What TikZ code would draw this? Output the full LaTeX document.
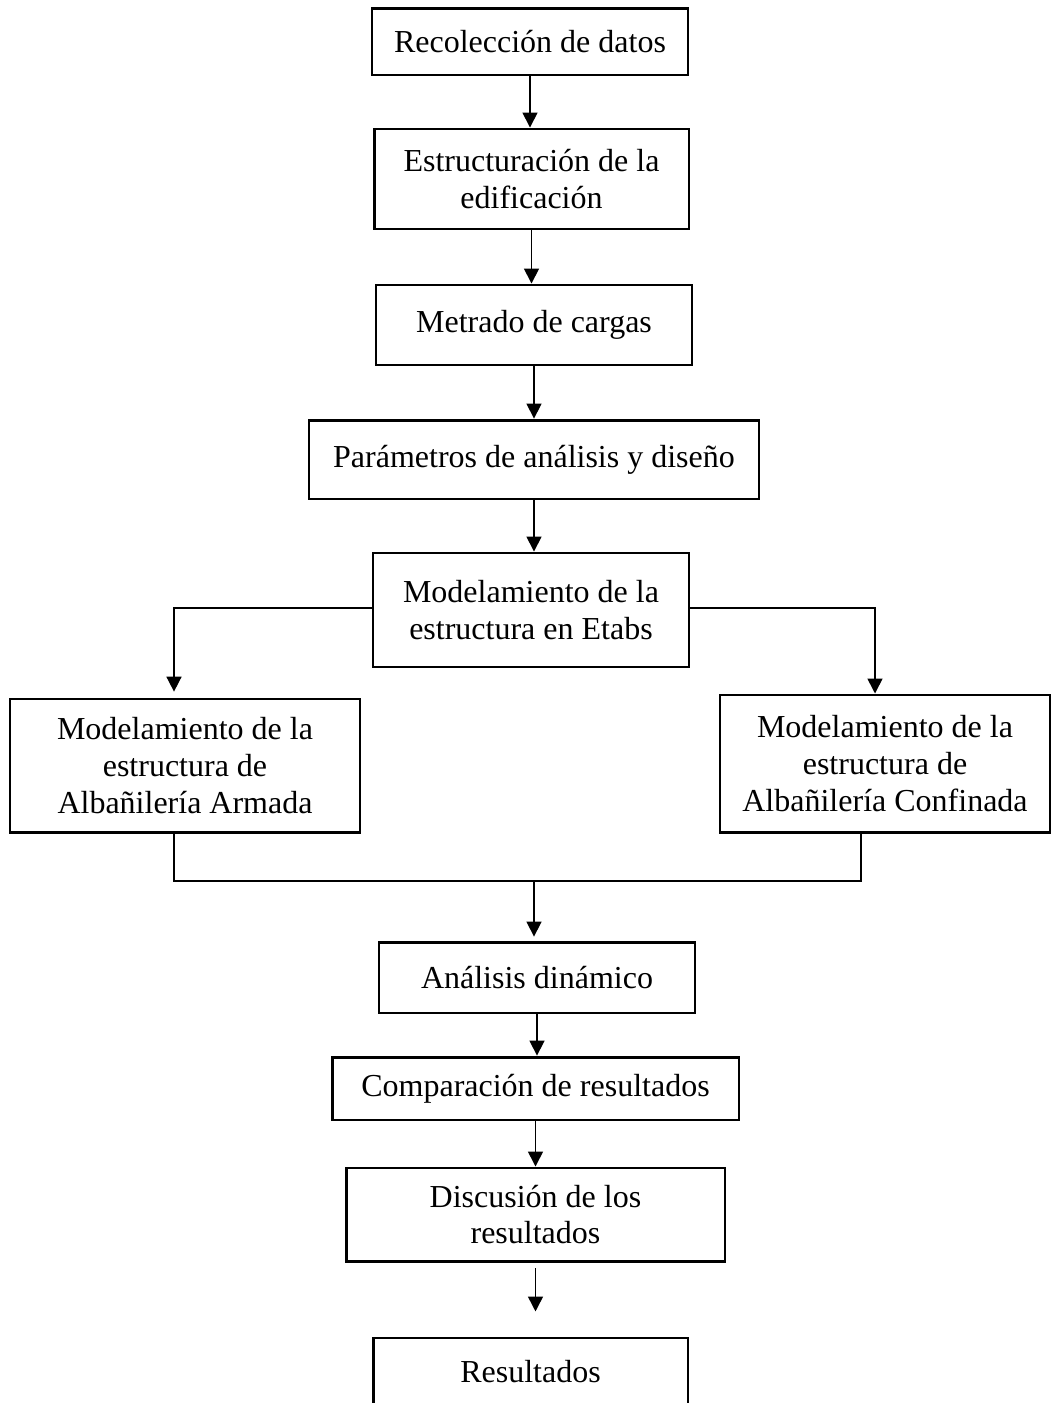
\documentclass[tikz,border=0pt]{standalone}
\usepackage{fontspec}
\setmainfont{Liberation Serif}
\usetikzlibrary{arrows.meta}

\begin{document}
\begin{tikzpicture}[x=0.375pt, y=-0.375pt,
        box/.style={draw, line width=1.1pt, align=center, inner sep=0pt, font=\fontsize{12}{13.8}\selectfont},
        arr/.style={-{Triangle[width=5.6pt, length=5.6pt]}, line width=0.6pt}]
        % Page
        \clip (0,0) rectangle (1051,1403);

        % Steps
        \node[box, minimum width=118.5pt, minimum height=25.1pt] (rec) at (530, 41.5) {Recolección de datos};
        \node[box, minimum width=118.1pt, minimum height=37.5pt] (est) at (531.5, 179) {Estructuración de la\\edificación};
        \node[box, minimum width=118.5pt, minimum height=30pt] (met) at (534, 325) {Metrado de cargas};
        \node[box, minimum width=168.75pt, minimum height=29.6pt] (par) at (534, 459.5) {Parámetros de análisis y diseño};
        \node[box, minimum width=118.5pt, minimum height=42.75pt] (mod) at (531, 610) {Modelamiento de la\\estructura en Etabs};
        \node[box, minimum width=131.25pt, minimum height=49.9pt] (arm) at (185, 765.5) {Modelamiento de la\\estructura de\\Albañilería Armada};
        \node[box, minimum width=123.75pt, minimum height=51.4pt] (con) at (885, 763.5) {Modelamiento de la\\estructura de\\Albañilería Confinada};
        \node[box, minimum width=118.5pt, minimum height=26.6pt] (din) at (537, 977.5) {Análisis dinámico};
        \node[box, minimum width=152.6pt, minimum height=23.6pt] (com) at (535.5, 1088.5) {Comparación de resultados};
        \node[box, minimum width=142.1pt, minimum height=34.9pt] (dis) at (535.5, 1214.5) {Discusión de los\\resultados};
        \node[box, minimum width=118.1pt, minimum height=25.5pt] (res) at (530.5, 1372) {Resultados};

        % Branch and join points
        \coordinate (splitL) at (174, 608);
        \coordinate (splitR) at (875, 608);
        \coordinate (joinL) at (174, 881);
        \coordinate (joinR) at (861, 881);
        \coordinate (join) at (534, 881);

        \draw[arr] (rec) -- (rec |- est.north);
        \draw[arr] (est) -- (est |- met.north);
        \draw[arr] (met) -- (met |- par.north);
        \draw[arr] (par) -- (par |- mod.north);

        \draw[arr, shorten >=2.2pt] (mod.west |- splitL) -- (splitL) -- (splitL |- arm.north);
        \draw[arr] (mod.east |- splitR) -- (splitR) -- (splitR |- con.north);

        \draw[line width=0.6pt] (joinL |- arm.south) -- (joinL) -- (joinR) -- (joinR |- con.south);
        \draw[arr, shorten >=1.5pt] (join) -- (join |- din.north);

        \draw[arr] (din) -- (din |- com.north);
        \draw[arr] (com) -- (com |- dis.north);
        \draw[arr, shorten <=2.2pt, shorten >=9.4pt] (dis) -- (dis |- res.north);
    \end{tikzpicture}
\end{document}
